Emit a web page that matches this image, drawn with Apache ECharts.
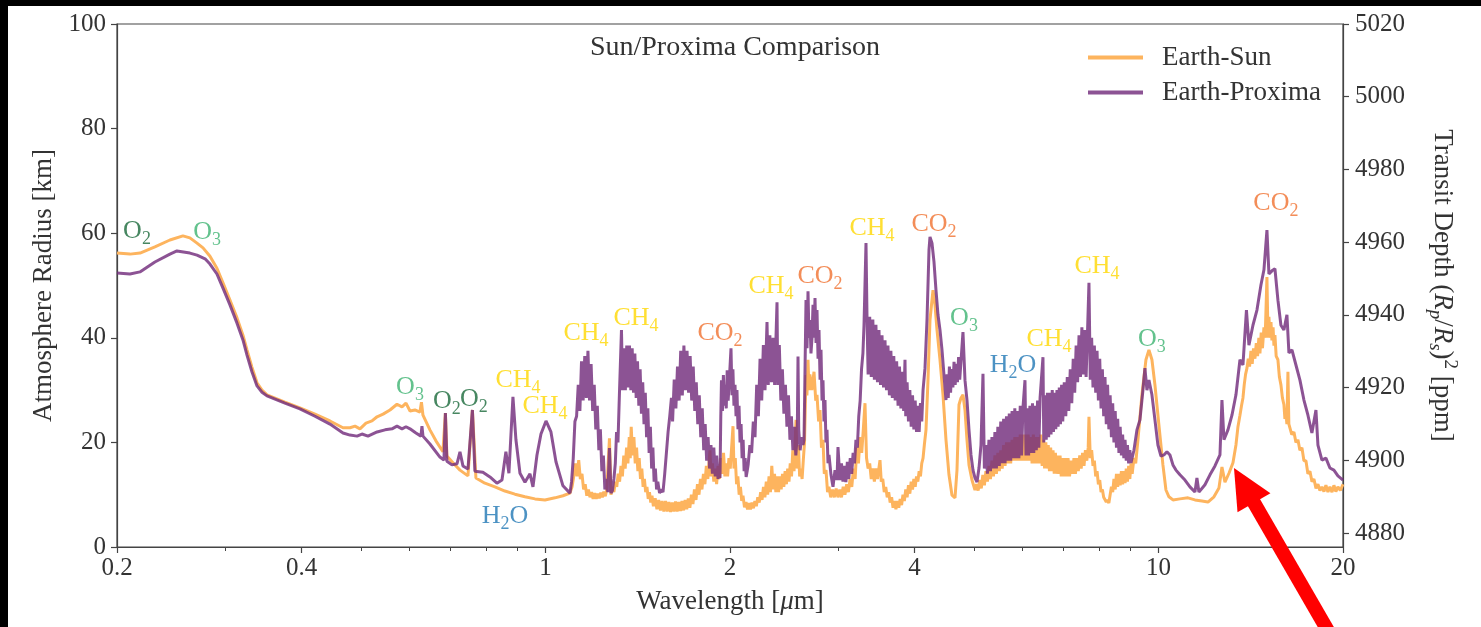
<!DOCTYPE html>
<html><head><meta charset="utf-8">
<script src="https://cdn.jsdelivr.net/npm/echarts@6/dist/echarts.min.js"></script>
<style>
html,body{margin:0;padding:0;background:#000;width:1481px;height:627px;overflow:hidden}
#c{position:absolute;left:8px;top:6px;width:1473px;height:621px;background:#fff}
</style></head><body><div id="c"></div>
<script>
// ---- data (wavelength in micron, atmosphere radius in km) ----
const earthSun = [[0.2,56.2],[0.21,56.0],[0.2181,56.2],[0.2306,57.4],[0.244,58.7],[0.2562,59.5],[0.263,59.1],[0.2701,58.1],[0.2763,57.2],[0.2836,55.6],[0.2911,53.3],[0.2978,50.5],[0.3057,47.2],[0.3139,43.8],[0.321,40.5],[0.3259,37.7],[0.332,34.4],[0.3384,31.4],[0.3448,30.0],[0.3513,29.1],[0.3758,27.7],[0.3976,26.6],[0.4207,25.4],[0.4451,24.1],[0.4674,22.8],[0.4799,22.8],[0.489,23.1],[0.4982,22.6],[0.5096,23.7],[0.5212,24.1],[0.5312,24.9],[0.5433,25.4],[0.5577,26.2],[0.5725,27.3],[0.5834,26.8],[0.5922,27.5],[0.6012,26.0],[0.6124,26.2],[0.6241,25.8],[0.6276,27.7],[0.6312,25.2],[0.6479,22.4],[0.6627,20.3],[0.6803,18.2],[0.6867,25.6],[0.6906,17.4],[0.7064,16.1],[0.7253,14.7],[0.7474,13.6],[0.76,26.2],[0.7701,13.2],[0.7965,12.2],[0.8271,11.5],[0.8587,10.7],[0.8916,10.1],[0.9259,9.6],[0.9614,9.2],[0.9982,9.0],[1.0363,9.4],[1.0679,9.8],[1.0964,10.3],
[1.105,11.5],[1.112,13.5],[1.119,16],[1.126,13.5],[1.133,16.6],[1.14,13],[1.147,14],[1.154,11],[1.161,12],[1.168,9.8],[1.175,11],[1.182,9.5],[1.189,10.5],[1.196,9.2],[1.203,10.3],[1.21,9.2],[1.217,10.2],[1.224,9.3],[1.231,10.4],[1.238,9.5],[1.245,10.6],[1.252,9.7],[1.259,11],[1.2717,20.8],[1.279,10],[1.286,11.5],[1.293,10.5],[1.3,12.5],[1.307,11.5],[1.314,14],[1.321,12.5],[1.328,15.5],[1.335,13.5],[1.342,17.5],[1.349,15],[1.356,19],[1.363,16],[1.37,21],[1.375,17],[1.38,23],[1.387,17.5],[1.394,21],[1.401,16],[1.408,19],[1.415,14.5],[1.422,17],[1.429,13],[1.436,15],[1.443,11.5],[1.45,13],[1.457,10.5],[1.464,11.5],[1.471,9.2],[1.478,10.5],[1.485,8.5],[1.492,9.8],[1.5,7.8],[1.51,9.3],[1.52,7.2],[1.53,9],[1.54,7],[1.55,8.8],[1.56,6.8],[1.57,8.8],[1.58,6.8],[1.59,8.6],[1.6,6.7],[1.61,8.5],[1.62,6.8],[1.63,8.7],[1.64,6.8],[1.65,8.6],[1.66,6.9],[1.67,8.8],[1.68,7],[1.69,9],[1.7,7.2],[1.71,9.3],[1.72,7.5],[1.73,10],[1.74,8.2],[1.75,11],[1.76,9],[1.77,12],[1.78,10],[1.79,13],[1.8,11],[1.81,14],[1.82,12],[1.83,15.5],[1.84,13],[1.8553,18.5],[1.862,13.5],[1.872,16],[1.882,12.5],[1.892,15],[1.902,12],[1.912,15.5],[1.922,13],[1.932,17],[1.942,14],[1.952,18],[1.962,13.5],[1.972,16],[1.982,13.5],[1.992,17],[2.002,15],[2.0227,23.1],[2.03,15],[2.04,17],[2.05,12],[2.06,13.5],[2.07,10],[2.08,11.5],[2.09,8.8],[2.1,9.8],[2.112,7.6],[2.124,8.6],[2.136,7.2],[2.148,8.4],[2.16,7.2],[2.172,8.5],[2.184,7.4],[2.196,8.8],[2.208,7.8],[2.22,9.5],[2.232,8.5],[2.244,10.5],[2.256,9],[2.268,11.5],[2.28,9.5],[2.292,12.5],[2.304,10],[2.316,13.5],[2.328,10.5],[2.34,15.5],[2.352,11],[2.364,14],[2.376,10.5],[2.388,13.5],[2.4,10.5],[2.412,13.5],[2.424,11],[2.436,14],[2.448,11.5],[2.46,14.5],[2.472,12],[2.484,15],[2.496,12.5],[2.508,16],[2.52,13.5],[2.532,18.5],[2.544,14.5],[2.5628,24.3],[2.574,15],[2.586,19.5],[2.598,13.5],[2.61,15],[2.622,13],[2.634,16.6],[2.646,20],[2.6609,32.9],[2.67,29],[2.681,35.8],[2.69,30],[2.7,33],[2.72,30],[2.742,33.5],[2.76,28],[2.773,29.1],[2.79,24],[2.8045,26.2],[2.82,19],[2.8362,20.5],[2.85,14],[2.8684,14.7],[2.885,10.5],[2.9,11.5],[2.92,9.5],[2.94,11],[2.96,9.5],[2.98,11.2],[3.0,9.5],[3.02,11],[3.04,9.5],[3.06,11.5],[3.08,10],[3.1,12],[3.12,10.5],[3.14,13],[3.16,11.5],[3.18,15],[3.2,13],[3.22,19],[3.24,16],[3.26,21],[3.28,18],[3.3,22.5],[3.3209,27.5],[3.34,17],[3.36,15],[3.38,16],[3.4,13],[3.42,15],[3.44,12.5],[3.46,15],[3.48,13],[3.5133,16.6],[3.53,12.5],[3.55,13],[3.57,10.5],[3.59,11.5],[3.61,9.5],[3.63,10.5],[3.65,8.5],[3.67,9.5],[3.69,7.5],[3.71,8.8],[3.73,7.2],[3.75,8.8],[3.77,7.5],[3.79,9.2],[3.81,8],[3.83,10],[3.85,8.8],[3.87,11],[3.89,9.5],[3.91,11.8],[3.93,10.2],[3.95,12.5],[3.97,11],[3.99,13],[4.01,11.5],[4.03,13.5],[4.05,12.5],[4.07,14.5],[4.09,13.5],[4.11,16],[4.13,17],[4.15,19.5],[4.176,22.4],[4.2075,31.9],[4.2391,43.4],[4.2872,49.1],[4.3195,46.3],[4.3521,41.5],[4.4014,35.8],[4.4514,29.1],[4.5017,20.5],[4.5526,13.8],[4.6043,9.9],[4.6565,9.4],[4.6916,14.7],[4.7269,27.2],[4.7625,28.5],[4.7984,29.1],[4.8347,26.2],[4.8711,20.5],[4.9079,15.7],[4.9633,12.8],[5.0197,10.9],
[5.05,12],[5.08,10.8],[5.11,12.8],[5.14,11.2],[5.17,13.8],[5.2,11.8],[5.23,14.5],[5.26,12.5],[5.29,15.5],[5.32,13],[5.35,16.5],[5.38,13.5],[5.41,17.5],[5.44,14],[5.47,18],[5.5,14.5],[5.53,18.5],[5.56,15],[5.59,19.5],[5.62,15.5],[5.65,20],[5.68,16],[5.71,20],[5.74,16],[5.77,20.5],[5.8,16.5],[5.83,21],[5.86,16.5],[5.89,21],[5.92,16.5],[5.95,21.5],[5.98,16.5],[6.01,21.5],[6.04,16.5],[6.07,21.5],[6.1,16.5],[6.13,21.5],[6.16,16.5],[6.19,21],[6.22,16],[6.25,21.5],[6.28,16],[6.31,21],[6.34,16],[6.37,21],[6.4,16],[6.43,21.5],[6.46,15.5],[6.49,20.5],[6.52,15],[6.55,20],[6.58,15],[6.61,19.5],[6.64,14.5],[6.67,19],[6.7,14.5],[6.73,18.5],[6.76,14],[6.79,18],[6.82,14],[6.85,17.5],[6.88,14],[6.91,17.5],[6.94,13.5],[6.97,17],[7.0,13.5],[7.04,17],[7.08,13.5],[7.12,17],[7.16,13.5],[7.2,16.5],[7.24,14],[7.28,17],[7.32,14],[7.36,17],[7.4,14.5],[7.44,17.5],[7.48,15],[7.52,18],[7.56,15.5],[7.6,18.5],[7.64,16.5],[7.68,19],[7.7022,24.9],[7.74,17],[7.78,18.5],[7.82,15.5],[7.86,16.5],[7.9,13.5],[7.94,14.5],[7.98,12],[8.02,12.8],[8.06,10.5],[8.1,11],[8.14,9.5],[8.18,9.8],[8.22,8.6],[8.26,9],[8.3,8.4],[8.34,10],[8.38,11.5],[8.42,10.5],[8.46,13],[8.5,11],[8.54,14],[8.58,11.5],[8.62,14],[8.66,11.8],[8.7,14.5],[8.74,12],[8.78,14.5],[8.82,12.2],[8.86,15],[8.9,12.5],[8.94,15.5],[8.98,13],[9.02,16],[9.06,14],[9.12,17],[9.18,16],[9.258,20.5],[9.3978,29.1],[9.5403,35.8],[9.6483,37.7],[9.7576,35.8],[9.8681,31.0],[10.017,23.3],[10.169,15.7],[10.285,10.9],[10.402,9.6],[10.559,9.0],[10.84,9.2],[11.171,9.4],[11.468,9.0],[11.774,8.8],[12.043,8.6],[12.318,9.6],[12.551,11.3],[12.693,15.3],[12.837,12.4],[13.031,14.1],[13.229,16.1],[13.378,19.5],[13.48,23],[13.581,25.2],[13.66,27],[13.735,28.5],[13.8,31],[13.87,33],[13.943,34.2],[14.01,36],[14.08,34.5],[14.153,37.5],[14.22,35],[14.29,38],[14.368,36],[14.44,39],[14.51,36.5],[14.58,40],[14.64,37],[14.71,41],[14.78,38],[14.862,42],[14.93,40],[15.03,51.6],[15.09,40],[15.143,44],[15.2,40],[15.26,43],[15.314,39.5],[15.38,42],[15.43,38.5],[15.488,40.5],[15.56,36.5],[15.663,35.8],[15.75,32.5],[15.841,31],[15.93,28.5],[16.02,27.2],[16.08,24.5],[16.141,25.5],[16.2,23.5],[16.263,33.5],[16.32,23.5],[16.386,23.5],[16.5,21.5],[16.633,22],[16.76,20],[16.886,20.5],[17.01,18.5],[17.141,19],[17.27,16.5],[17.401,16.5],[17.53,14],[17.664,14.5],[17.8,12.5],[17.931,13],[18.07,11.2],[18.203,12],[18.34,10.8],[18.478,11.5],[18.62,10.6],[18.757,11.8],[18.9,10.5],[19.041,11.5],[19.19,10.5],[19.329,11.8],[19.47,10.6],[19.622,11.5],[19.8,10.8],[20.0,12.0]];

const earthProxima = [[0.2,52.4],[0.21,52.2],[0.218,52.6],[0.2306,54.5],[0.244,56.0],[0.2505,56.6],[0.263,56.2],[0.2701,55.8],[0.2784,55.1],[0.2836,54.1],[0.2911,52.2],[0.2978,49.5],[0.3057,46.3],[0.3139,42.8],[0.321,39.6],[0.3259,36.7],[0.332,33.5],[0.3384,30.8],[0.3448,29.6],[0.3513,28.9],[0.3758,27.5],[0.3976,26.4],[0.4207,25.0],[0.4451,23.5],[0.4674,21.8],[0.4799,21.4],[0.4927,21.2],[0.5019,21.6],[0.5134,21.2],[0.5312,22.0],[0.5474,22.4],[0.5619,22.6],[0.5725,23.1],[0.5834,22.6],[0.5922,23.0],[0.6012,22.6],[0.6147,21.8],[0.6264,21.2],[0.6288,23.1],[0.6312,21.2],[0.6479,19.7],[0.6727,17.2],[0.6829,16.6],[0.6867,25.6],[0.6906,16.4],[0.7038,15.7],[0.7172,15.9],[0.7253,18.2],[0.7335,15.5],[0.7474,14.9],[0.76,26.2],[0.7671,14.5],[0.7905,14.3],[0.8117,13.4],[0.8333,12.2],[0.8493,12.8],[0.8619,18.2],[0.8717,14.1],[0.885,28.7],[0.895,20.5],[0.9087,14.1],[0.9259,12.4],[0.9434,14.0],[0.9541,11.5],[0.9686,17.6],[0.9832,21.6],[1.002,24.1],[1.0208,22.0],[1.0402,16.3],[1.0679,11.7],[1.0964,10.3],
[1.103,12.5],[1.11,17],[1.117,24],[1.124,25],[1.131,31],[1.138,26],[1.145,35.5],[1.152,28],[1.159,36.5],[1.166,28.5],[1.173,37.5],[1.18,28],[1.187,35],[1.194,26],[1.201,31],[1.208,22.5],[1.215,27],[1.222,18.5],[1.229,22.5],[1.236,14.5],[1.243,17.5],[1.25,11],[1.257,13],[1.264,10.5],[1.2717,18.9],[1.279,10.3],[1.286,10.8],[1.293,13],[1.3,16],[1.306,22],[1.313,20],[1.32,29],[1.3304,41.5],[1.336,30],[1.343,38],[1.35,30],[1.357,38.5],[1.364,30.5],[1.371,38.5],[1.378,30],[1.385,38],[1.392,29.5],[1.399,37],[1.406,28.5],[1.413,35.5],[1.42,27],[1.427,34],[1.434,25.5],[1.441,31.5],[1.448,23.5],[1.455,29.5],[1.462,21],[1.469,26.5],[1.476,18],[1.483,23],[1.49,15],[1.497,19],[1.504,12.5],[1.511,15],[1.518,11],[1.525,12.5],[1.535,10.3],[1.545,11],[1.555,10.5],[1.565,14],[1.575,18],[1.585,22],[1.595,25],[1.605,28.5],[1.612,24],[1.622,32],[1.632,26.5],[1.642,34.5],[1.652,28],[1.662,37.5],[1.672,29],[1.682,38.5],[1.692,30],[1.702,37.5],[1.712,29.5],[1.722,36.5],[1.732,28],[1.742,34.5],[1.752,26],[1.762,31.5],[1.772,23.5],[1.782,29],[1.792,21],[1.802,26.5],[1.812,18.5],[1.822,23.5],[1.832,16.5],[1.842,21],[1.852,15],[1.862,19.5],[1.872,14],[1.882,19],[1.892,13.5],[1.902,17.5],[1.912,13],[1.922,15.5],[1.9263,13.2],[1.932,25],[1.937,31.9],[1.944,26],[1.951,32.9],[1.958,27],[1.965,31],[1.972,26.5],[1.979,33.8],[1.986,28],[1.993,31],[2.0075,38.0],[2.015,29],[2.022,34],[2.03,27],[2.038,31],[2.046,25],[2.053,30],[2.061,22.5],[2.069,27],[2.077,20],[2.085,23.5],[2.093,17],[2.101,20.5],[2.109,14.5],[2.117,17],[2.125,13.4],[2.133,14.5],[2.141,15.7],[2.155,19.5],[2.169,18],[2.183,24],[2.197,21],[2.211,31],[2.225,25],[2.239,36],[2.253,28],[2.267,38.6],[2.281,30],[2.2983,43.0],[2.309,31],[2.323,40.5],[2.337,31.5],[2.351,40],[2.365,31],[2.3863,46.8],[2.393,31],[2.407,38.6],[2.421,28],[2.435,34],[2.449,25.5],[2.463,31],[2.477,23],[2.491,29],[2.505,20.5],[2.519,25],[2.533,18.5],[2.547,23],[2.561,17.5],[2.575,21.5],[2.5821,36.4],[2.589,22.4],[2.603,18.5],[2.617,21],[2.631,19.5],[2.641,20.5],[2.6609,47.2],[2.671,38],[2.681,48.9],[2.691,40],[2.7011,43.4],[2.711,37],[2.7215,40],[2.7318,46.3],[2.742,40],[2.7523,47.6],[2.763,39],[2.773,45.3],[2.784,36],[2.794,41.5],[2.805,32],[2.815,37.7],[2.826,28],[2.8362,31.9],[2.847,24],[2.8576,28.1],[2.868,20],[2.8791,22.4],[2.89,16],[2.9008,17.6],[2.9227,13.8],[2.9447,11.5],[2.967,14.7],[2.9894,12.8],[3.0006,19.1],[3.0232,12.8],[3.04,16],[3.057,12.5],[3.074,15.5],[3.091,12.4],[3.108,16.3],[3.125,13],[3.142,17],[3.159,14],[3.176,18],[3.193,16],[3.21,20.5],[3.227,19],[3.244,25],[3.261,28],[3.278,34],[3.295,37],[3.3085,42.4],[3.3334,58.1],[3.346,44],[3.36,33],[3.38,44],[3.4,32.5],[3.42,43.5],[3.44,32],[3.46,42.5],[3.48,31.5],[3.5,41.5],[3.52,31],[3.54,40.5],[3.56,30.5],[3.58,39.5],[3.6,30],[3.62,38.5],[3.64,29],[3.66,37.5],[3.68,28.5],[3.7,36.5],[3.72,28],[3.74,35.5],[3.76,27],[3.78,34.5],[3.8,26.5],[3.82,33.5],[3.84,26],[3.8592,35.8],[3.87,25],[3.89,31.5],[3.91,24],[3.93,30],[3.95,23],[3.97,29],[3.99,22.5],[4.01,28],[4.03,22],[4.05,27],[4.07,22],[4.09,27.5],[4.11,24],[4.13,30],[4.1603,34.2],[4.1917,43.4],[4.2233,56.8],[4.2391,59.3],[4.2711,58.1],[4.3033,54.5],[4.3357,49.1],[4.3684,44.4],[4.4014,41.5],[4.4346,37.7],[4.468,32.9],[4.5017,28.1],[4.52,33],[4.54,28.5],[4.56,34.5],[4.58,29.5],[4.6,34],[4.62,30.5],[4.64,35.4],[4.66,31],[4.68,35],[4.7,31.5],[4.72,36.3],[4.74,32],[4.7984,41.1],[4.8347,31.9],[4.8711,28.1],[4.9079,22.4],[4.9449,17.6],[4.9822,14.7],[5.0197,13.2],[5.0576,12.4],[5.0957,15.1],[5.1341,19.5],[5.1728,33.1],[5.2,15],[5.23,19.5],[5.26,14],[5.29,20.5],[5.32,14.5],[5.35,21],[5.38,15],[5.41,22],[5.44,15],[5.47,23],[5.5,15.5],[5.53,24],[5.56,16],[5.59,24.5],[5.62,16],[5.65,25],[5.68,16.5],[5.71,25.5],[5.74,16.5],[5.77,26],[5.8,17],[5.83,26.5],[5.86,17],[5.89,26],[5.92,17],[5.95,27],[5.98,17.5],[6.01,26.5],[6.0567,31.9],[6.08,17.5],[6.11,26.5],[6.14,17.5],[6.17,27],[6.2,18],[6.23,27.5],[6.26,18],[6.29,27],[6.32,18.5],[6.35,28],[6.38,19],[6.41,28.5],[6.4803,36.3],[6.5,20],[6.53,29],[6.56,20.5],[6.59,29.5],[6.62,21],[6.65,29.5],[6.68,21.5],[6.71,30],[6.74,22],[6.77,29.5],[6.8,22.5],[6.83,30],[6.86,23],[6.89,30.5],[6.92,23.5],[6.95,31],[6.98,24],[7.02,31.5],[7.06,25],[7.1,32.5],[7.14,26],[7.18,34],[7.22,27.5],[7.26,36],[7.3,29.5],[7.34,38.5],[7.38,31.5],[7.42,40.5],[7.46,32.5],[7.5,42],[7.54,33],[7.58,41.5],[7.62,32.5],[7.66,41],[7.7022,50.5],[7.74,32],[7.78,40],[7.82,30.5],[7.86,38.5],[7.9,29.5],[7.94,37.5],[7.98,28],[8.02,36],[8.06,26.5],[8.1,34],[8.14,25],[8.18,32.5],[8.22,23.5],[8.26,31],[8.3,22.5],[8.34,29],[8.38,21],[8.42,27.5],[8.46,20],[8.5,26],[8.54,19],[8.58,24.5],[8.62,18],[8.66,23],[8.7,17.5],[8.74,21.5],[8.78,17],[8.82,20.5],[8.86,16.5],[8.9,19.5],[8.94,16],[8.98,18.5],[9.0177,16.1],[9.12,18.5],[9.2232,22.4],[9.3276,24.3],[9.4332,30.0],[9.5045,34.2],[9.5761,30.0],[9.6483,31.9],[9.7576,29.1],[9.8681,24.3],[9.9798,19.5],[10.093,17.4],[10.207,17.6],[10.323,18.2],[10.441,17.6],[10.559,15.7],[10.679,14.7],[10.84,13.8],[11.046,12.8],[11.255,11.5],[11.468,10.5],[11.554,13.2],[11.641,10.5],[11.908,11.9],[12.134,13.8],[12.364,15.5],[12.598,17.6],[12.693,28.1],[12.789,20.5],[12.982,22.4],[13.179,25.2],[13.378,29.1],[13.581,35.8],[13.735,34.8],[13.916,45.3],[14.047,38.6],[14.26,42.4],[14.476,45.3],[14.695,50.1],[14.862,53.0],[15.03,60.6],[15.143,52.2],[15.314,52.8],[15.488,53.2],[15.663,47.2],[15.841,42.4],[16.02,41.5],[16.202,44.4],[16.324,37.1],[16.51,37.7],[16.759,34.8],[17.013,31.9],[17.27,28.1],[17.532,25.2],[17.796,21.8],[18.067,26.2],[18.203,19.5],[18.478,16.6],[18.757,17.0],[19.041,15.1],[19.329,14.7],[19.622,13.6],[20.0,12.8]];

const seriesNames = ['Earth-Sun', 'Earth-Proxima'];
const xMajorTicks = [0.2, 0.4, 1, 2, 4, 10, 20];
const xMinorTicks = [0.3, 0.5, 0.6, 0.7, 0.8, 0.9, 3, 5, 6, 7, 8, 9];
const rightTicks = [4880, 4900, 4920, 4940, 4960, 4980, 5000, 5020];
// molecule annotations: [wavelength, radius, molecule]
const moleculeLabels = [[0.2156,60.4,'O2'],[0.2805,60.2,'O3'],[0.6012,30.6,'O3'],[0.6906,27.9,'O2'],[0.7643,28.3,'O2'],[0.9019,31.9,'CH4'],[0.9982,27.0,'CH4'],[0.8587,5.9,'H2O'],[1.1643,40.9,'CH4'],[1.4049,43.8,'CH4'],[1.9263,40.9,'CO2'],[2.3331,49.9,'CH4'],[2.8045,51.8,'CO2'],[3.4093,61.0,'CH4'],[4.3033,61.8,'CO2'],[4.8166,43.8,'O3'],[5.7898,34.8,'H2O'],[6.628,39.8,'CH4'],[7.9371,53.7,'CH4'],[9.7576,39.8,'O3'],[15.546,65.8,'CO2']];
const arrowTip = [13.28, 15.1];

const FONT = 'Liberation Serif';
const TXT = '#333';
const molColors = {O2:'#19693a', O3:'#3cb371', CH4:'#ffd700', CO2:'#f0702e', H2O:'#1f77b4'};
const molText = {O2:['O','2',''], O3:['O','3',''], CH4:['CH','4',''], CO2:['CO','2',''], H2O:['H','2','O']};
const rich = {};
Object.keys(molColors).forEach(k => {
  rich[k] = {color: molColors[k], fontFamily: FONT, fontSize: 26, lineHeight: 34};
  rich[k + 's'] = {color: molColors[k], fontFamily: FONT, fontSize: 18, lineHeight: 16, verticalAlign: 'bottom'};
});
const PURPLE = 'rgba(115,45,125,0.82)';
const ORANGE = '#fdb45e';

const chart = echarts.init(document.getElementById('c'), null, {renderer: 'canvas'});
const logAxisBase = {type: 'log', logBase: 10, min: 0.2, max: 20, gridIndex: 0, position: 'bottom',
  splitLine: {show: false}, minorTick: {show: false}};
chart.setOption({
  animation: false,
  backgroundColor: '#fff',
  title: {text: 'Sun/Proxima Comparison', left: 722, top: 23, textAlign: 'center',
    textStyle: {fontFamily: FONT, fontSize: 28, fontWeight: 'normal', color: TXT}},
  legend: {orient: 'vertical', left: 1075, top: 33, icon: 'rect', itemWidth: 55, itemHeight: 4, itemGap: 8,
    textStyle: {fontFamily: FONT, fontSize: 27, color: TXT, lineHeight: 26, padding: [0, 0, 0, 14]},
    data: seriesNames},
  grid: {left: 109, right: 138, top: 18, bottom: 80, show: true, borderColor: '#444', borderWidth: 1.2},
  xAxis: [
    Object.assign({}, logAxisBase, {
      name: 'Wavelength [{mu|μ}m]', nameLocation: 'middle', nameGap: 41,
      nameTextStyle: {fontFamily: FONT, fontSize: 27, color: TXT, rich: {mu: {fontFamily: FONT, fontSize: 27, fontStyle: 'italic', color: TXT}}},
      axisLine: {show: true, lineStyle: {color: '#444', width: 1.2}},
      axisTick: {show: true, length: 6, customValues: xMajorTicks, lineStyle: {color: '#444', width: 1.2}},
      axisLabel: {show: true, customValues: xMajorTicks, margin: 9, fontFamily: FONT, fontSize: 25, color: TXT,
        formatter: v => String(+(+v).toPrecision(3))}
    }),
    Object.assign({}, logAxisBase, {
      axisLine: {show: false},
      axisTick: {show: true, length: 4, customValues: xMinorTicks, lineStyle: {color: '#444', width: 1}},
      axisLabel: {show: false}
    })
  ],
  yAxis: [
    {type: 'value', min: 0, max: 100, interval: 20, position: 'left',
      name: 'Atmosphere Radius [km]', nameLocation: 'middle', nameGap: 60, nameRotate: 90,
      nameTextStyle: {fontFamily: FONT, fontSize: 27, color: TXT},
      axisLine: {show: true, lineStyle: {color: '#444', width: 1.2}},
      axisTick: {show: true, length: 6, lineStyle: {color: '#444', width: 1.2}},
      axisLabel: {margin: 11, fontFamily: FONT, fontSize: 25, color: TXT},
      splitLine: {show: false}},
    {type: 'value', min: 4876.15, max: 5020, position: 'right',
      name: 'Transit Depth ({ri|R}{rs|p}/{ri|R}{rs|s}){sup|2} [ppm]', nameLocation: 'middle', nameGap: 82, nameRotate: -90,
      nameTextStyle: {fontFamily: FONT, fontSize: 27, color: TXT, lineHeight: 34,
        rich: {ri: {fontFamily: FONT, fontSize: 27, fontStyle: 'italic', color: TXT, lineHeight: 34},
               rs: {fontFamily: FONT, fontSize: 19, fontStyle: 'italic', color: TXT, lineHeight: 16, verticalAlign: 'bottom'},
               sup: {fontFamily: FONT, fontSize: 19, color: TXT, lineHeight: 21, verticalAlign: 'top'}}},
      axisLine: {show: true, lineStyle: {color: '#444', width: 1.2}},
      axisTick: {show: true, length: 6, customValues: rightTicks, lineStyle: {color: '#444', width: 1.2}},
      axisLabel: {show: true, customValues: rightTicks, margin: 12, fontFamily: FONT, fontSize: 25, color: TXT,
        formatter: v => String(Math.round(v))},
      splitLine: {show: false}}
  ],
  series: [
    {name: seriesNames[0], type: 'line', data: earthSun, xAxisIndex: 0, yAxisIndex: 0, showSymbol: false,
      color: ORANGE, lineStyle: {width: 3, color: ORANGE}, z: 2},
    {name: seriesNames[1], type: 'line', data: earthProxima, xAxisIndex: 0, yAxisIndex: 0, showSymbol: false,
      color: PURPLE, lineStyle: {width: 3, color: PURPLE}, z: 3},
    {name: 'labels', type: 'scatter', data: moleculeLabels, xAxisIndex: 0, yAxisIndex: 0, symbolSize: 0, silent: true, z: 5,
      label: {show: true, position: 'inside', rich: rich,
        formatter: p => { const m = p.data[2]; const t = molText[m];
          return '{' + m + '|' + t[0] + '}{' + m + 's|' + t[1] + '}' + (t[2] ? '{' + m + '|' + t[2] + '}' : ''); }}}
  ]
});

// red annotation arrow pointing to the curve
const tip = chart.convertToPixel({xAxisIndex: 0, yAxisIndex: 0}, arrowTip);
const dir = [0.5, 0.866], nrm = [-0.866, 0.5];
const headLen = 40, headHalf = 19;
const base = [tip[0] + dir[0] * headLen, tip[1] + dir[1] * headLen];
chart.setOption({graphic: [
  {type: 'line', shape: {x1: base[0] - dir[0] * 4, y1: base[1] - dir[1] * 4, x2: base[0] + dir[0] * 220, y2: base[1] + dir[1] * 220},
    style: {stroke: '#ff0000', lineWidth: 14}, z: 100},
  {type: 'polygon', shape: {points: [tip, [base[0] + nrm[0] * headHalf, base[1] + nrm[1] * headHalf], [base[0] - nrm[0] * headHalf, base[1] - nrm[1] * headHalf]]},
    style: {fill: '#ff0000'}, z: 101}
]});
</script></body></html>
